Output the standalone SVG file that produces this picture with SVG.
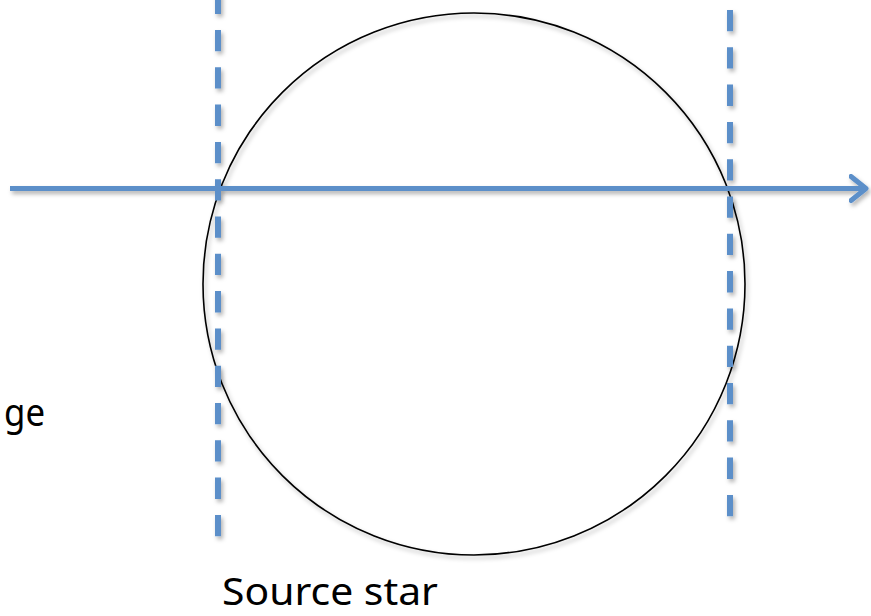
<svg xmlns="http://www.w3.org/2000/svg" width="871" height="616" viewBox="0 0 871 616">
  <style>
    .dash { fill: none; stroke: #5b8fc9; stroke-width: 6; stroke-dasharray: 21.3 16; }
    .axis { fill: none; stroke: #5b8fc9; stroke-width: 5; }
    .star { fill: none; stroke: #000; stroke-width: 1.6; }
    .label { font-family: "Noto Sans", "Open Sans", sans-serif; font-size: 39px; fill: #000; }
  </style>
  <defs>
    <filter id="shadow" x="-10%" y="-10%" width="120%" height="120%">
      <feDropShadow dx="2" dy="3" stdDeviation="2" flood-color="#000" flood-opacity="0.3"/>
    </filter>
    <marker id="arrow" viewBox="0 0 20 30" refX="17" refY="15" markerWidth="20" markerHeight="30" markerUnits="userSpaceOnUse" orient="auto">
      <polyline points="2,3 17,15 2,27" fill="none" stroke="#5b8fc9" stroke-width="5" stroke-linecap="round" stroke-linejoin="round"/>
    </marker>
  </defs>
  <g id="source-star" filter="url(#shadow)">
    <circle class="star" cx="474" cy="284" r="271"/>
  </g>
  <g id="connectors" filter="url(#shadow)">
    <line id="left-edge" class="dash" x1="218" y1="-7.3" x2="218" y2="537"/>
    <line id="right-edge" class="dash" x1="730" y1="10" x2="730" y2="517"/>
    <line id="ray" class="axis" x1="10" y1="188.5" x2="866" y2="188.5" marker-end="url(#arrow)"/>
  </g>
  <g id="labels">
    <text class="label" x="4" y="426" textLength="41" lengthAdjust="spacingAndGlyphs">ge</text>
    <text class="label" x="222" y="605" textLength="216" lengthAdjust="spacingAndGlyphs">Source star</text>
  </g>
</svg>
